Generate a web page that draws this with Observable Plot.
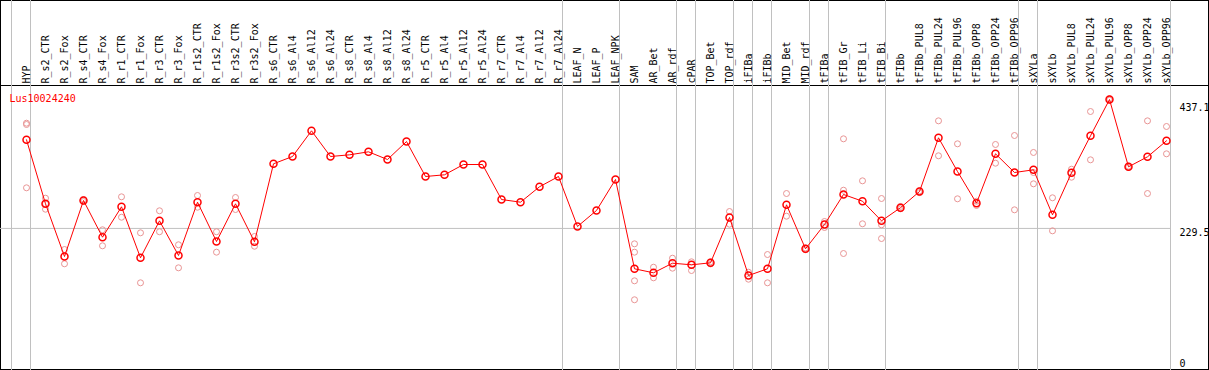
<!DOCTYPE html>
<html>
<head>
<meta charset="utf-8">
<script src="https://cdn.jsdelivr.net/npm/d3@7"></script>
<script src="https://cdn.jsdelivr.net/npm/@observablehq/plot@0.6"></script>
<style>
  html, body { margin: 0; padding: 0; background: #fff; }
  #chart { width: 1209px; height: 370px; overflow: hidden; }
</style>
</head>
<body>
<div id="chart"></div>
<script>
const title = "Lus10024240";

const categories = ["HYP","R_s2_CTR","R_s2_Fox","R_s4_CTR","R_s4_Fox","R_r1_CTR","R_r1_Fox","R_r3_CTR","R_r3_Fox",
  "R_r1s2_CTR","R_r1s2_Fox","R_r3s2_CTR","R_r3s2_Fox","R_s6_CTR","R_s6_Al4","R_s6_Al12","R_s6_Al24",
  "R_s8_CTR","R_s8_Al4","R_s8_Al12","R_s8_Al24","R_r5_CTR","R_r5_Al4","R_r5_Al12","R_r5_Al24",
  "R_r7_CTR","R_r7_Al4","R_r7_Al12","R_r7_Al24","LEAF_N","LEAF_P","LEAF_NPK","SAM","AR_Bet","AR_rdf",
  "cPAR","TOP_Bet","TOP_rdf","iFIBa","iFIBb","MID_Bet","MID_rdf","tFIBa","tFIB_Gr","tFIB_Li","tFIB_Bi",
  "tFIBb","tFIBb_PUL8","tFIBb_PUL24","tFIBb_PUL96","tFIBb_OPP8","tFIBb_OPP24","tFIBb_OPP96",
  "sXYLa","sXYLb","sXYLb_PUL8","sXYLb_PUL24","sXYLb_PUL96","sXYLb_OPP8","sXYLb_OPP24","sXYLb_OPP96"];

const means = [376.8, 270.4, 182.8, 275.9, 214.9, 265.4, 180.7, 242.1, 184.5, 273.1, 207.7, 270.4, 207.2,
  336.9, 349.0, 391.7, 349.0, 351.8, 356.8, 344.0, 373.9, 315.8, 318.6, 335.7, 335.7, 277.5, 273.1, 298.7,
  315.8, 232.7, 259.3, 310.8, 162.4, 155.7, 171.7, 169.0, 172.3, 247.6, 151.2, 162.4, 268.7, 195.6, 236.0,
  285.9, 274.7, 242.1, 263.9, 290.8, 380.1, 324.1, 271.4, 353.5, 322.4, 326.9, 252.1, 321.9, 383.4, 443.7,
  331.9, 348.5, 375.1];

const replicates = [
  [404.4, 402.2, 297.0], [279.7, 270.4, 261.4], [194.4, 170.7], [277.5, 274.2], [227.2, 200.6],
  [282.0, 248.1], [222.2, 139.1], [258.8, 223.9], [202.3, 164.0], [284.2, 264.7], [223.9, 190.0],
  [280.9, 260.9], [216.1, 199.9],
  [], [], [], [], [], [], [], [], [], [], [], [], [], [], [], [], [], [], [],
  [203.9, 190.0, 142.4, 110.9], [165.0, 147.4], [180.0, 163.4], [174.0, 159.5], [174.0, 170.5],
  [257.6, 236.5], [156.7, 145.1], [186.1, 139.1], [287.5, 249.8], [197.0, 194.0], [241.0, 231.0],
  [378.4, 293.0, 187.8], [308.6, 237.2], [279.2, 235.5, 212.7], [266.0, 262.0], [292.0, 289.0],
  [408.3, 350.2], [370.1, 278.7], [274.7, 267.6], [369.0, 337.9], [383.9, 260.4],
  [355.7, 322.4, 303.6], [280.4, 225.5], [327.9, 314.6], [423.8, 343.5], [445.0, 442.5],
  [333.0, 331.0], [408.3, 287.5], [398.9, 353.5]
];

// last category of each group (a separator is drawn after it)
const groupEnds = ["HYP","R_r7_Al24","LEAF_NPK","AR_rdf","cPAR","TOP_rdf","iFIBa","iFIBb","MID_rdf",
  "tFIBa","tFIB_Bi","tFIBb_OPP96","sXYLa","sXYLb_OPP96"];

const yTicksTop = [437.1, 229.5];
const yTicksBottom = [0];
const gridValues = [229.5];

const n = categories.length;
const meanRows = means.map((v, i) => ({i, v}));
const repRows = replicates.flatMap((arr, i) => arr.map(v => ({i, v})));

const W = 1209, H = 370, mT = 85, mB = 3, mL = 0, mR = 32;
const gray = "#c0c0c0";

const chart = Plot.plot({
  width: W, height: H,
  marginTop: mT, marginBottom: mB, marginLeft: mL, marginRight: mR,
  style: {fontFamily: "'DejaVu Sans Mono', monospace", fontSize: "10px", background: "#fff", overflow: "hidden"},
  x: {type: "linear", domain: [0, n - 1], range: [26, 26 + 19 * (n - 1)], axis: null, label: null},
  y: {type: "linear", domain: [0, 437.1], range: [366, 103], axis: null, label: null},
  marks: [
    Plot.frame({stroke: "black", insetTop: -mT, insetBottom: 1 - mB, insetRight: 1 - mR}),
    Plot.frame({anchor: "top", stroke: "black", insetRight: -mR}),
    Plot.ruleX([0], {x: d => d, dx: -15, stroke: gray, insetTop: -mT, insetBottom: -mB}),
    Plot.ruleX(groupEnds, {x: d => categories.indexOf(d), dx: 4, stroke: gray, insetTop: -mT, insetBottom: -mB}),
    Plot.ruleY(gridValues, {y: d => d, stroke: gray, insetRight: 7}),
    Plot.dot(repRows, {x: "i", y: "v", r: 3, stroke: "#e99595", strokeWidth: 1, fill: "none"}),
    Plot.line(meanRows, {x: "i", y: "v", stroke: "#ff0000", strokeWidth: 1}),
    Plot.dot(meanRows, {x: "i", y: "v", r: 3.5, stroke: "#ff0000", strokeWidth: 1.5, fill: "none"}),
    Plot.axisX(d3.range(n), {anchor: "top", tickSize: 0, tickPadding: 2, tickRotate: -90,
      tickFormat: i => categories[i], label: null, fill: "black"}),
    Plot.axisY(yTicksTop, {anchor: "right", tickSize: 0, tickPadding: 2, dy: 4.5,
      tickFormat: d => String(d), label: null, fill: "black"}),
    Plot.axisY(yTicksBottom, {anchor: "right", tickSize: 0, tickPadding: 2, dy: -3,
      tickFormat: d => String(d), label: null, fill: "black"}),
    Plot.text([title], {text: d => d, frameAnchor: "top-left", dx: 9, dy: 16, lineAnchor: "bottom",
      textAnchor: "start", fill: "#ff0000"})
  ]
});
document.getElementById("chart").appendChild(chart);
</script>
</body>
</html>
